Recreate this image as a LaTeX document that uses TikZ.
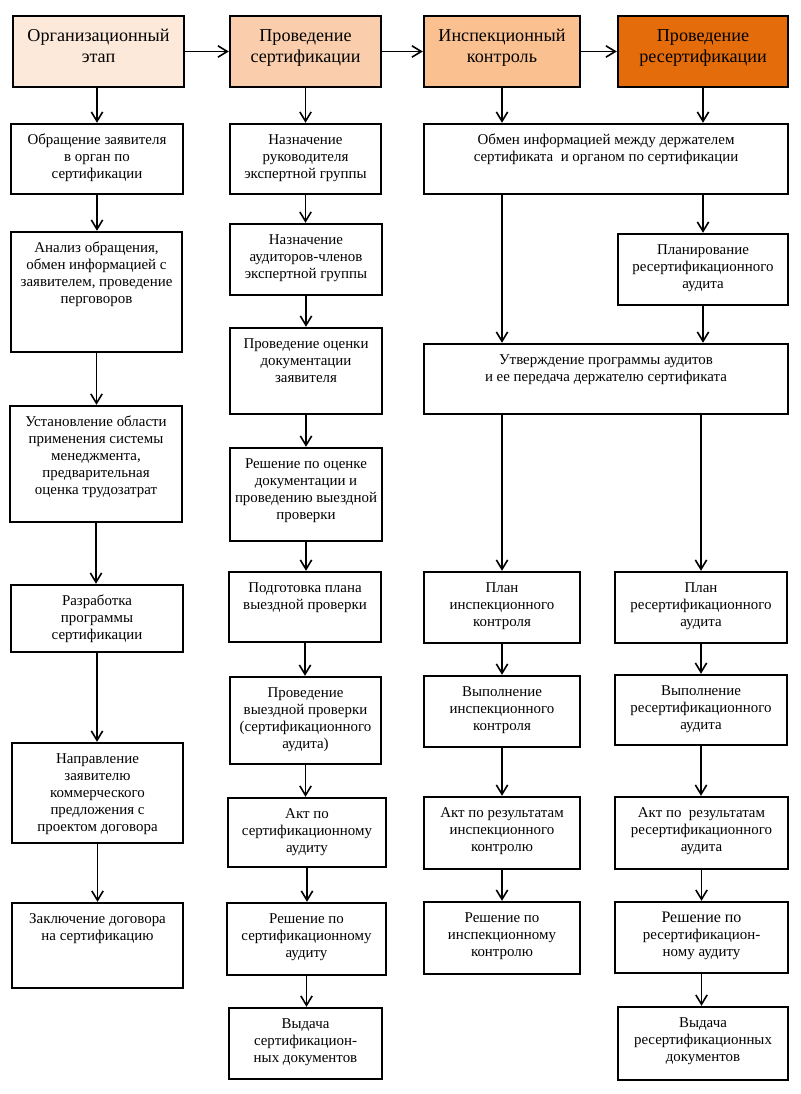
\documentclass[tikz,border=0pt]{standalone}
\usepackage{fontspec}
\setmainfont{Liberation Serif}
\usetikzlibrary{arrows.meta,fit,calc}
\definecolor{hA}{RGB}{253,233,217}
\definecolor{hB}{RGB}{250,206,172}
\definecolor{hC}{RGB}{250,192,144}
\definecolor{hD}{RGB}{228,108,10}
\newcommand\mybox[7]{%
  \node[box,fill=#6,fit={(#2,#3) (#4,#5)}] (#1) {};
  \node[txt] (#1t) at ($(#1.north)+(0,9)$) {\strut #7};}
\newcommand\myhead[7]{%
  \node[box,fill=#6,fit={(#2,#3) (#4,#5)}] (#1) {};
  \node[htxt] (#1t) at ($(#1.north)+(0,12)$) {\strut #7};}
\begin{document}
\begin{tikzpicture}[x=0.75pt,y=-0.75pt,
  box/.style={draw=black,line width=1.8pt,inner sep=0pt},
  txt/.style={inner sep=0pt,align=center,anchor=north,font=\fontsize{11.2}{12.9}\selectfont},
  htxt/.style={inner sep=0pt,align=center,anchor=north,font=\fontsize{13.6}{15.75}\selectfont},
  arr/.style={line width=1.3pt,-{Straight Barb[length=7pt,width=8.5pt,line width=1.2pt]}}]
\fill[white] (0,0) rectangle (800,1094);
\useasboundingbox (0,0) rectangle (800,1094);
% headers
\myhead{h1}{13}{16}{184}{87}{hA}{Организационный\\этап}
\myhead{h2}{230}{16}{381}{87}{hB}{Проведение\\сертификации}
\myhead{h3}{424}{16}{580}{87}{hC}{Инспекционный\\контроль}
\myhead{h4}{618}{16}{788}{87}{hD}{Проведение\\ресертификации}
% column 1
\mybox{a1}{11}{124}{183}{194}{white}{Обращение заявителя\\в орган по\\сертификации}
\mybox{a2}{11}{232}{182}{352}{white}{Анализ обращения,\\обмен информацией с\\заявителем, проведение\\перговоров}
\mybox{a3}{10}{406}{182}{522}{white}{Установление области\\применения системы\\менеджмента,\\предварительная\\оценка трудозатрат}
\mybox{a4}{11}{585}{183}{652}{white}{Разработка\\программы\\сертификации}
\mybox{a5}{12}{743}{183}{843}{white}{Направление\\заявителю\\коммерческого\\предложения с\\проектом договора}
\mybox{a6}{12}{903}{183}{988}{white}{Заключение договора\\на сертификацию}
% column 2
\mybox{b1}{230}{124}{381}{194}{white}{Назначение\\руководителя\\экспертной группы}
\mybox{b2}{230}{224}{382}{295}{white}{Назначение\\аудиторов-членов\\экспертной группы}
\mybox{b3}{230}{328}{382}{414}{white}{Проведение оценки\\документации\\заявителя}
\mybox{b4}{230}{448}{382}{541}{white}{Решение по оценке\\документации и\\проведению выездной\\проверки}
\mybox{b5}{229}{572}{381}{642}{white}{Подготовка плана\\выездной проверки}
\mybox{b6}{230}{677}{381}{764}{white}{Проведение\\выездной проверки\\(сертификационного\\аудита)}
\mybox{b7}{228}{798}{386}{867}{white}{Акт по\\сертификационному\\аудиту}
\mybox{b8}{227}{903}{386}{975}{white}{Решение по\\сертификационному\\аудиту}
\mybox{b9}{229}{1008}{382}{1079}{white}{Выдача\\сертификацион-\\ных документов}
% columns 3 and 4
\mybox{obm}{424}{124}{788}{194}{white}{Обмен информацией между держателем\\сертификата\ \ и органом по сертификации}
\mybox{pln}{618}{234}{788}{305}{white}{Планирование\\ресертификационного\\аудита}
\mybox{utv}{424}{344}{788}{414}{white}{Утверждение программы аудитов\\и ее передача держателю сертификата}
\mybox{c1}{424}{572}{580}{643}{white}{План\\инспекционного\\контроля}
\mybox{c2}{424}{676}{580}{747}{white}{Выполнение\\инспекционного\\контроля}
\mybox{c3}{424}{797}{580}{869}{white}{Акт по результатам\\инспекционного\\контролю}
\mybox{c4}{424}{902}{580}{974}{white}{Решение по\\инспекционному\\контролю}
\mybox{d1}{615}{572}{787}{643}{white}{План\\ресертификационного\\аудита}
\mybox{d2}{615}{675}{787}{745}{white}{Выполнение\\ресертификационного\\аудита}
\mybox{d3}{615}{797}{788}{869}{white}{Акт по\ \ результатам\\ресертификационного\\аудита}
\mybox{d4}{615}{902}{788}{973}{white}{\fontsize{12}{13.8}\selectfont Решение по\\ресертификацион-\\ному аудиту}
\mybox{d5}{618}{1007}{788}{1080}{white}{Выдача\\ресертификационных\\документов}
% horizontal arrows between headers
\draw[arr] (h1.east) -- (h2.west);
\draw[arr] (h2.east) -- (h3.west);
\draw[arr] (h3.east) -- (h4.west);
% column 1 arrows
\draw[arr] (h1.south -| a1.north) -- (a1.north);
\draw[arr] (a1.south) -- (a2.north -| a1.south);
\draw[arr] (a2.south) -- (a3.north -| a2.south);
\draw[arr] (a3.south) -- (a4.north -| a3.south);
\draw[arr] (a4.south) -- (a5.north -| a4.south);
\draw[arr] (a5.south) -- (a6.north -| a5.south);
% column 2 arrows
\draw[arr] (h2.south) -- (b1.north -| h2.south);
\draw[arr] (b1.south) -- (b2.north -| b1.south);
\draw[arr] (b2.south) -- (b3.north -| b2.south);
\draw[arr] (b3.south) -- (b4.north -| b3.south);
\draw[arr] (b4.south) -- (b5.north -| b4.south);
\draw[arr] (b5.south) -- (b6.north -| b5.south);
\draw[arr] (b6.south) -- (b7.north -| b6.south);
\draw[arr] (b7.south) -- (b8.north -| b7.south);
\draw[arr] (b8.south) -- (b9.north -| b8.south);
% columns 3/4 arrows
\draw[arr] (h3.south) -- (obm.north -| h3.south);
\draw[arr] (h4.south) -- (obm.north -| h4.south);
\draw[arr] (obm.south -| h3.south) -- (utv.north -| h3.south);
\draw[arr] (obm.south -| pln.north) -- (pln.north);
\draw[arr] (pln.south) -- (utv.north -| pln.south);
\draw[arr] (utv.south -| c1.north) -- (c1.north);
\draw[arr] (utv.south -| d1.north) -- (d1.north);
\draw[arr] (c1.south) -- (c2.north -| c1.south);
\draw[arr] (c2.south) -- (c3.north -| c2.south);
\draw[arr] (c3.south) -- (c4.north -| c3.south);
\draw[arr] (d1.south) -- (d2.north -| d1.south);
\draw[arr] (d2.south) -- (d3.north -| d2.south);
\draw[arr] (d3.south) -- (d4.north -| d3.south);
\draw[arr] (d4.south) -- (d5.north -| d4.south);
\end{tikzpicture}
\end{document}
